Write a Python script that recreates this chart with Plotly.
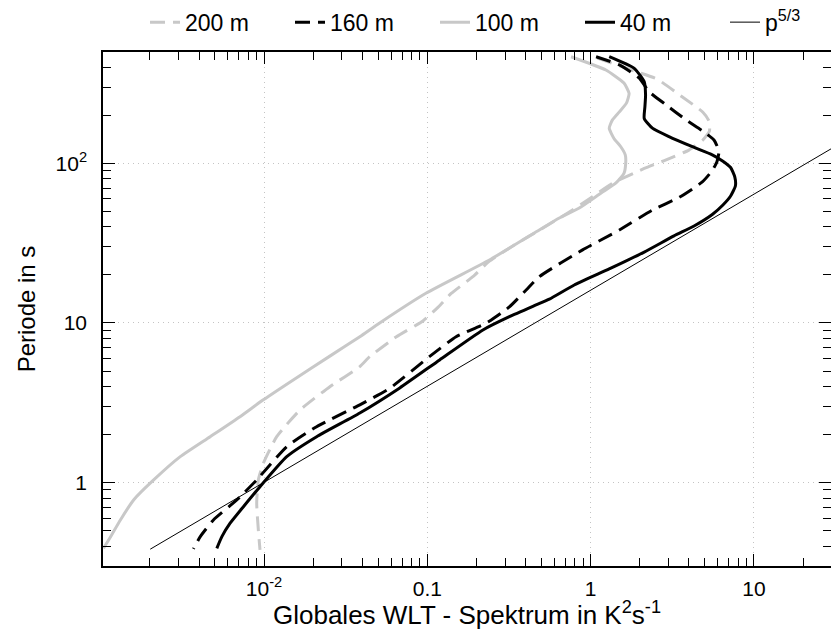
import plotly.graph_objects as go

# ---------------- data ----------------
period_200 = [456, 375, 337, 261, 209, 184, 159, 140, 121, 105, 92.8, 75, 59.8, 51, 38.8, 30.8,
              24.4, 19.5, 15.3, 12.6, 10.3, 8.2, 6.15, 5.33, 3.99, 2.85, 1.94, 1.32, 1.04, 0.743, 0.506, 0.379]
spec_200 = [1.10, 1.90, 2.55, 3.63, 4.87, 5.31, 5.34, 4.87, 4.0, 2.90, 2.13, 1.36, 0.98, 0.775, 0.50, 0.341,
            0.240, 0.190, 0.140, 0.117, 0.094, 0.0647, 0.0444, 0.0386, 0.0253, 0.0166, 0.01196, 0.0099,
            0.00923, 0.00902, 0.00923, 0.00945]

period_160 = [465, 413, 342, 281, 232, 187, 159, 140, 119, 102, 89.5, 76.4, 61.1, 51, 38.2, 28.7, 19.5,
              16.1, 12.6, 9.96, 8.2, 6.15, 3.90, 3.07, 2.24, 1.68, 1.04, 0.779, 0.584, 0.459, 0.385]
spec_160 = [1.08, 1.50, 1.98, 2.28, 2.90, 3.84, 4.87, 5.69, 6.11, 5.93, 5.53, 4.83, 3.48, 2.39, 1.50, 0.893,
            0.485, 0.403, 0.318, 0.229, 0.150, 0.103, 0.0589, 0.0386, 0.021, 0.01377, 0.00902, 0.00681,
            0.0049, 0.00407, 0.0037]

period_100 = [465, 384, 318, 274, 239, 210, 187, 166, 143, 127, 113, 100, 86.5, 75.3, 65.2, 52.5, 45.4,
              38.2, 24.8, 15.4, 10, 8.2, 6.2, 4.40, 3.30, 2.59, 1.94, 1.455, 1.04, 0.779, 0.584, 0.459, 0.388]
spec_100 = [0.759, 1.24, 1.60, 1.72, 1.66, 1.50, 1.36, 1.30, 1.39, 1.53, 1.63, 1.64, 1.60, 1.43, 1.16, 0.852,
            0.643, 0.485, 0.240, 0.0986, 0.0511, 0.0386, 0.0253, 0.0151, 0.0099, 0.00713, 0.00468, 0.00307,
            0.00211, 0.00159, 0.00132, 0.00115, 0.00104]

period_40 = [465, 393, 324, 268, 226, 191, 166, 147, 127, 113, 103, 94.1, 82, 72.1, 62.4, 54.8, 47.8, 40.5,
             35.1, 27.8, 21.8, 17.3, 14.1, 12.97, 10.95, 9.04, 5.87, 3.92, 2.73, 1.94, 1.455, 0.944,
             0.707, 0.557, 0.459, 0.388]
spec_40 = [1.30, 1.85, 2.13, 2.17, 2.15, 2.13, 2.39, 3.02, 4.2, 5.56, 6.46, 7.2, 7.64, 7.7, 7.2, 6.46, 5.56,
           4.30, 3.24, 2.13, 1.30, 0.794, 0.559, 0.463, 0.318, 0.219, 0.119, 0.0678, 0.0386, 0.021,
           0.01377, 0.00945, 0.00748, 0.0062, 0.00552, 0.00514]

period_ref = [0.383, 124]
spec_ref = [0.00201, 30.0]

x_tickvals = [0.01, 0.1, 1, 10]
x_ticktext = ["10<sup>-2</sup>", "0.1", "1", "10"]
y_tickvals = [1, 10, 100]
y_ticktext = ["1", "10", "10<sup>2</sup>"]

GRAY = "#c8c8c8"
FONT = "Liberation Sans, Arial, sans-serif"

fig = go.Figure()
fig.add_trace(go.Scatter(x=spec_200, y=period_200, mode="lines", name="200 m",
                         line=dict(color=GRAY, width=3, dash="15px,8px", shape="spline", smoothing=0.5)))
fig.add_trace(go.Scatter(x=spec_160, y=period_160, mode="lines", name="160 m",
                         line=dict(color="black", width=3, dash="15px,8px", shape="spline", smoothing=0.5)))
fig.add_trace(go.Scatter(x=spec_100, y=period_100, mode="lines", name="100 m",
                         line=dict(color=GRAY, width=3, shape="spline", smoothing=0.5)))
fig.add_trace(go.Scatter(x=spec_40, y=period_40, mode="lines", name="40 m",
                         line=dict(color="black", width=3, shape="spline", smoothing=0.5)))
fig.add_trace(go.Scatter(x=spec_ref, y=period_ref, mode="lines", name="p<sup>5/3</sup>",
                         line=dict(color="black", width=1)))

axis_common = dict(
    type="log", showline=True, linecolor="black", linewidth=1.5, mirror="ticks",
    ticks="inside", ticklen=12, tickcolor="black", tickwidth=1,
    showgrid=True, gridcolor="#c4c4c4", griddash="1px,4px", gridwidth=1,
    zeroline=False, tickmode="array",
    tickfont=dict(family=FONT, size=21, color="black"),
    minor=dict(ticks="inside", ticklen=8, dtick="D1", tickcolor="black", tickwidth=1, showgrid=False),
)

fig.update_xaxes(**axis_common, range=[-2.986, 1.472], tickvals=x_tickvals, ticktext=x_ticktext,
                 ticklabelstandoff=3,
                 title=dict(text="Globales WLT - Spektrum in K<sup>2</sup>s<sup>-1</sup>",
                            font=dict(family=FONT, size=26, color="black"), standoff=7))
fig.update_yaxes(**axis_common, range=[-0.522, 2.697], tickvals=y_tickvals, ticktext=y_ticktext,
                 ticklabelstandoff=10,
                 title=dict(text="Periode in s", font=dict(family=FONT, size=24, color="black"),
                            standoff=13))

fig.update_layout(
    width=831, height=630,
    margin=dict(l=103, r=0, t=52, b=64, autoexpand=False),
    plot_bgcolor="white", paper_bgcolor="white",
    font=dict(family=FONT, size=21, color="black"),
    legend=dict(orientation="h", x=0.0577, xanchor="left", y=1.058, yanchor="middle",
                font=dict(family=FONT, size=23, color="black"),
                entrywidth=100, entrywidthmode="pixels", bgcolor="rgba(0,0,0,0)"),
    showlegend=True,
)

fig.write_html("out.html")
